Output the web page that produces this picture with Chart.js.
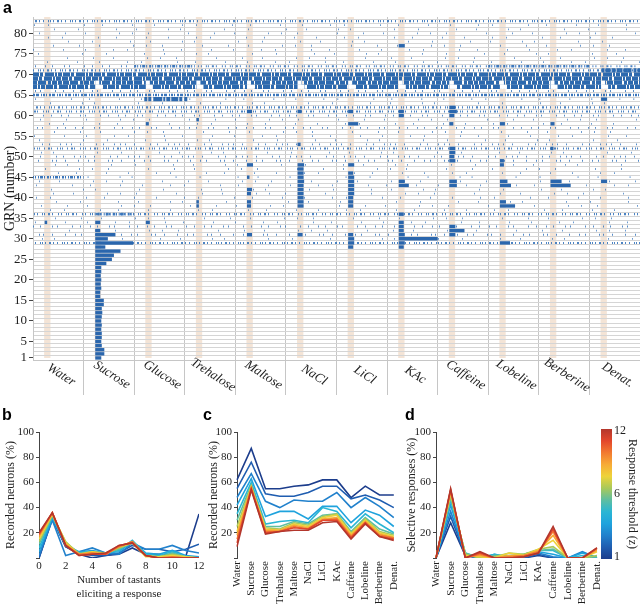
<!DOCTYPE html>
<html><head><meta charset="utf-8">
<script src="https://cdn.jsdelivr.net/npm/chart.js@4.4.1/dist/chart.umd.min.js"></script>
<style>
html,body{margin:0;padding:0;background:#fff;}
#wrap{position:relative;width:640px;height:605px;overflow:hidden;}
canvas{position:absolute;}
.lab{position:absolute;font:bold 16px "Liberation Sans",Arial,sans-serif;color:#000;line-height:16px;}
</style></head><body>
<div id="wrap">
<canvas id="ca" width="640" height="400" style="left:0;top:0"></canvas>
<canvas id="cb" width="215" height="205" style="left:0;top:400px"></canvas>
<canvas id="cc" width="210" height="205" style="left:200px;top:400px"></canvas>
<canvas id="cd" width="240" height="205" style="left:400px;top:400px"></canvas>
<div class="lab" style="left:3px;top:0px">a</div>
<div class="lab" style="left:2px;top:407px">b</div>
<div class="lab" style="left:203px;top:407px">c</div>
<div class="lab" style="left:405px;top:407px">d</div>
</div>
<script>
// ================= DATA =================
const tastants = ['Water','Sucrose','Glucose','Trehalose','Maltose','NaCl','LiCl','KAc','Caffeine','Lobeline','Berberine','Denat.'];
const grnTickLabels = [1,5,10,15,20,25,30,35,40,45,50,55,60,65,70,75,80];
const grnCount = 83;
const stimWindow = [0.22, 0.345];     // stimulus period within each tastant trial (fraction)
const responseOnset = 0.23;

// background firing bands: [GRN, fromTrial, toTrial, density level 1..5]
const activityBands = [
 [83,0,12,3],[82,0,12,1],[81,0,12,1],[80,0,12,1],[79,0,12,1],[78,0,12,1],[77,0,12,1],
 [76,0,12,1],[75,0,12,1],[74,0,12,1],[73,0,12,1],
 [72,0,2,2],[72,2,3.2,4],[72,3.2,9,3],[72,9,11,4],[72,11,12,3],
 [71,0,12,3],[71,11.2,12,5],
 [70,0,12,5],[69,0,12,5],[68,0,12,5],[67,0,12,5],
 [66,0,12,2],[65,0,12,4],
 [64,0,2.2,1],[64,2.2,3.05,5],[64,3.05,12,1],
 [63,0,12,1],[62,0,12,3],[61,0,12,3],[60,0,12,2],[59,0,12,1],[58,0,12,1],[57,0,12,2],
 [56,0,12,1],[55,0,12,1],[54,0,12,1],[53,0,12,2],[52,0,12,3],[51,0,12,1],[50,0,12,2],
 [49,0,12,2],[48,0,12,1],[47,0,12,1],[46,0,12,1],
 [45,0,1,4],[45,1,12,1],
 [44,0,12,1],[43,0,12,1],[42,0,12,1],[41,0,12,1],[40,0,12,1],[39,0,12,1],[38,0,12,1],[37,0,12,1],
 [36,0,12,3],[36,1.2,2,4],
 [35,0,12,1],[34,0,12,1],[33,0,12,2],[32,0,12,1],[31,0,12,2],[30,0,12,1],[29,0,12,3]
];

// pauses in firing after stimulus onset: [GRN, tastant index, duration]
const pauseBlocks = [
 [67,1,0.14],[67,2,0.14],[67,3,0.14],[67,4,0.14],[67,5,0.14],[67,6,0.14],[67,7,0.14],[67,8,0.14],[67,9,0.14],[67,10,0.14],[67,11,0.14],
 [68,1,0.08],[68,2,0.08],[68,3,0.08],[68,4,0.08],[68,5,0.08],[68,6,0.08],[68,7,0.08],[68,8,0.08],[68,9,0.08],[68,10,0.08],[68,11,0.08]
];

// evoked responses: [GRN, tastant index, duration]
const responseBlocks = [
 [1,1,0.12],[2,1,0.18],[3,1,0.18],[4,1,0.13],[5,1,0.12],[6,1,0.13],[7,1,0.13],[8,1,0.12],[9,1,0.13],[10,1,0.12],
 [11,1,0.13],[12,1,0.14],[13,1,0.13],[14,1,0.17],[15,1,0.17],[16,1,0.1],[17,1,0.1],[18,1,0.12],[19,1,0.11],[20,1,0.12],
 [21,1,0.11],[22,1,0.12],[23,1,0.12],[24,1,0.22],[25,1,0.33],[26,1,0.37],[27,1,0.5],[28,1,0.2],[29,1,0.75],[30,1,0.25],
 [31,1,0.4],[32,1,0.1],[34,1,0.1],
 [34,0,0.05],[34,2,0.08],[58,2,0.06],[38,3,0.05],[39,3,0.05],[59,3,0.05],
 [31,4,0.1],[38,4,0.08],[39,4,0.08],[41,4,0.08],[42,4,0.1],[45,4,0.05],[48,4,0.12],[61,4,0.1],
 [31,5,0.1],[38,5,0.12],[39,5,0.12],[40,5,0.12],[41,5,0.12],[42,5,0.12],[43,5,0.12],[44,5,0.13],[45,5,0.12],
 [46,5,0.12],[47,5,0.12],[48,5,0.13],[53,5,0.06],[61,5,0.08],
 [28,6,0.1],[29,6,0.12],[30,6,0.12],[31,6,0.1],[38,6,0.1],[39,6,0.1],[40,6,0.1],[41,6,0.12],[42,6,0.12],
 [43,6,0.12],[44,6,0.12],[45,6,0.12],[46,6,0.1],[48,6,0.12],[58,6,0.2],[61,6,0.1],
 [28,7,0.1],[29,7,0.12],[30,7,0.77],[31,7,0.12],[32,7,0.1],[33,7,0.1],[34,7,0.1],[36,7,0.1],[43,7,0.2],[44,7,0.12],
 [60,7,0.1],[61,7,0.1],[77,7,0.12],
 [31,8,0.12],[32,8,0.3],[33,8,0.12],[43,8,0.15],[44,8,0.15],[49,8,0.12],[50,8,0.1],[51,8,0.12],[52,8,0.12],
 [58,8,0.08],[60,8,0.1],[61,8,0.15],[62,8,0.12],
 [29,9,0.2],[38,9,0.3],[39,9,0.12],[43,9,0.22],[44,9,0.15],[48,9,0.08],[49,9,0.08],[58,9,0.1],
 [43,10,0.4],[44,10,0.22],[52,10,0.06],[58,10,0.08],
 [44,11,0.12],[64,11,0.12]
];

// panels b-d
const thresholds = [1,2,3,4,5,6,7,8,9,10,11,12];
const thresholdColors = ['#1c3d8c','#1f5db0','#2181cc','#1fa3dd','#2ab6d4','#5fbea0','#a9c95a','#eed33a','#f7ab36','#f27a30','#e3472c','#b3362c'];
const tastantCounts = [0,1,2,3,4,5,6,7,8,9,10,11,12];
const breadthPct = [
 [0,31,9,3,0,2,3,8,3,3,2,1,35],
 [0,32,9,4,2,2,4,10,7,7,5,7,11],
 [2,30,2,5,8,4,3,12,7,7,10,6,4],
 [5,32,10,5,6,4,5,13,4,3,6,2,1],
 [8,33,11,4,5,4,6,14,3,2,5,1,0],
 [11,34,12,4,5,4,7,13,2,1,4,1,0],
 [13,34,13,3,5,4,8,12,2,1,3,1,0],
 [15,35,12,3,5,3,9,12,1,1,2,1,0],
 [17,35,11,3,4,3,9,13,2,0,1,0,0],
 [18,36,10,3,4,3,9,13,2,0,1,0,0],
 [19,36,10,2,3,3,10,12,2,0,0,0,0],
 [20,36,10,2,3,4,10,12,2,0,0,0,0]
];
const responsivePct = [
 [62,87,55,55,57,58,62,62,48,57,50,50],
 [55,76,51,49,49,52,57,57,47,50,46,40],
 [48,67,45,40,46,45,45,52,40,48,41,32],
 [42,63,33,37,37,31,41,41,28,38,34,25],
 [35,60,27,29,30,28,40,37,24,35,27,20],
 [30,58,25,25,29,27,34,35,21,32,23,19],
 [25,57,24,23,28,26,33,35,20,31,21,18],
 [21,56,23,22,27,25,32,34,19,30,20,17],
 [18,56,22,22,26,24,31,32,18,29,19,16],
 [15,55,21,21,25,23,30,31,17,28,18,16],
 [12,55,20,21,24,23,30,30,16,28,17,15],
 [9,54,19,21,22,22,28,29,15,27,17,14]
];
const selectivePct = [
 [0,28,2,0,0,0,0,2,0,0,0,0],
 [0,33,2,0,0,0,0,3,0,0,0,0],
 [0,37,3,0,2,0,1,4,1,0,5,0],
 [0,42,3,0,3,0,2,5,3,0,4,0],
 [0,46,4,0,3,1,3,6,6,0,2,1],
 [0,48,4,0,2,2,3,6,7,0,0,1],
 [0,50,3,0,1,4,3,7,9,0,0,2],
 [0,52,2,1,0,4,2,7,14,0,0,5],
 [0,53,1,2,0,2,2,6,18,0,0,6],
 [0,54,0,3,0,1,2,5,21,0,0,7],
 [0,54,0,4,0,0,1,4,23,0,0,8],
 [0,55,0,5,0,0,1,4,25,0,0,8]
];
const colorbarTicks = [1,6,12];

// ================= STYLE / RENDER =================
const FONT = '"Liberation Serif","Times New Roman",serif';
const TXT = '#1e1e1e';
Chart.defaults.font.family = FONT;

// dash-pattern variants per density level (style only)
const levelStyles = {
 1:{dash:[[1,19,1,31,1,11,1,43,1,23,1,37],[1,27,1,13,1,35,1,17,1,29,1,21],[1,15,1,39,1,25,1,19,1,33,1,12]], w:1.8, c:'rgba(60,122,192,0.75)'},
 2:{dash:[[1,6,1,11,1,4,1,14,1,7,1,9],[1,9,1,5,1,13,1,3,1,8,1,12],[1,4,1,8,1,15,1,6,1,10,1,5]], w:1.9, c:'rgba(58,120,190,0.85)'},
 3:{dash:[[1,2,1,4,1,1,1,3,2,2,1,5],[1,3,2,1,1,5,1,2,1,1,1,4],[2,2,1,3,1,4,1,1,1,2,1,3]], w:2.1, c:'rgba(55,117,188,0.9)'},
 4:{dash:[[2,1,1,2,1,1,3,1,1,2],[1,1,2,2,3,1,1,1,1,2],[3,2,1,1,2,1,1,2,2,1]], w:2.6, c:'rgba(50,112,184,0.95)'},
 5:{dash:[[6,1,3,2,8,1,2,1,5,1],[4,1,7,1,3,2,9,1,2,1],[8,2,3,1,5,1,4,1,6,1]], w:4.1, c:'#2d69ae'}
};
const seg = (x0,x1,y) => [{x:x0,y:y},{x:x1,y:y}];
const rasterSets = [];
activityBands.forEach(([r,a,b,l]) => {
  const st = levelStyles[l];
  rasterSets.push({data:seg(a,b,r), borderColor:st.c, borderWidth:st.w,
    borderDash:st.dash[r%3], borderDashOffset:(r*37)%97, order:3});
});
pauseBlocks.forEach(([r,t,d]) => {
  rasterSets.push({data:seg(t+responseOnset,t+responseOnset+d,r), borderColor:'#ffffff', borderWidth:4.2, order:2});
});
responseBlocks.forEach(([r,t,d]) => {
  rasterSets.push({data:seg(t+responseOnset,t+responseOnset+d,r), borderColor:'#2a66ad', borderWidth:3.4, order:1});
});
rasterSets.forEach(ds => Object.assign(ds, {showLine:true, pointRadius:0, fill:false, tension:0, borderCapStyle:'butt'}));

const stripePlugin = {
  id:'stripes',
  beforeDraw(chart){
    const {ctx, chartArea:ar, scales:{x}} = chart;
    ctx.save(); ctx.fillStyle = '#f4e4d6';
    tastants.forEach((t,i) => {
      const x0 = x.getPixelForValue(i+stimWindow[0]), x1 = x.getPixelForValue(i+stimWindow[1]);
      ctx.fillRect(x0, ar.top, x1-x0, ar.bottom-ar.top-2);
    });
    ctx.restore();
  },
  afterDraw(chart){
    const {ctx, chartArea:ar, scales:{x}} = chart;
    ctx.save(); ctx.font = 'italic 13px '+FONT; ctx.fillStyle = TXT;
    ctx.textAlign='center'; ctx.textBaseline='middle';
    tastants.forEach((t,i) => {
      ctx.save();
      ctx.translate(x.getPixelForValue(i+0.5)+3, ar.bottom+15);
      ctx.rotate(33*Math.PI/180);
      ctx.fillText(t,0,0);
      ctx.restore();
    });
    ctx.restore();
  }
};

const isHalf = v => Math.abs(v%1) > 0.25;
new Chart(document.getElementById('ca'), {
  type:'scatter',
  data:{datasets:rasterSets},
  plugins:[stripePlugin],
  options:{
    responsive:false, animation:false, events:[],
    layout:{padding:{top:17,right:0,left:0,bottom:0}},
    plugins:{legend:{display:false}, tooltip:{enabled:false}},
    scales:{
      x:{type:'linear', min:0, max:12,
        afterBuildTicks:s => { s.ticks = tastants.map((t,i)=>({value:i})).concat([{value:12}]); },
        afterFit:s => { s.height = 40; },
        grid:{color:'#c6c6c6', lineWidth:1, drawTicks:true, tickLength:35,
          tickColor:c => (c.tick && c.tick.value===0) ? 'rgba(0,0,0,0)' : '#c6c6c6'},
        border:{display:true, color:'#c6c6c6'},
        ticks:{display:false}
      },
      y:{type:'linear', min:0.5, max:84,
        afterBuildTicks:s => { const a=[]; for(let v=0.5; v<=grnCount+0.5; v+=0.5) a.push({value:v}); s.ticks=a; },
        afterFit:s => { s.width = 33; },
        grid:{drawTicks:true, tickLength:4,
          color:c => (c.tick && isHalf(c.tick.value)) ? '#d5d5d5' : 'rgba(0,0,0,0)',
          tickColor:c => (c.tick && grnTickLabels.includes(c.tick.value)) ? '#444' : 'rgba(0,0,0,0)'},
        border:{display:true, color:'#c6c6c6'},
        ticks:{autoSkip:false, font:{size:13}, color:TXT, padding:2,
          callback:v => grnTickLabels.includes(v) ? String(v) : ''},
        title:{display:true, text:'GRN (number)', font:{size:14}, color:TXT, padding:{top:2,bottom:0}}
      }
    }
  }
});

// ---- panels b, c, d ----
function yAxis(title, width, titlePad){
  return {min:0, max:100,
    afterBuildTicks:s => { s.ticks=[0,20,40,60,80,100].map(v=>({value:v})); },
    afterFit:s => { s.width = width; },
    grid:{display:true, drawOnChartArea:false, drawTicks:true, tickLength:3, color:'#444'},
    border:{display:true, color:'#444'},
    ticks:{font:{size:11}, color:TXT, padding:2, callback:v => v===0 ? '' : v},
    title:{display:true, text:title, font:{size:12}, color:TXT, padding:{top:titlePad,bottom:0}}
  };
}
function lineSets(series, xs){
  return thresholds.map((t,i) => ({
    label:'z = '+t,
    data: xs ? xs.map((x,j)=>({x:x, y:series[i][j]})) : series[i],
    borderColor:thresholdColors[i], borderWidth:1.6, pointRadius:0, tension:0, fill:false,
    order: 12-t
  }));
}
const common = {responsive:false, animation:false, events:[],
  plugins:{legend:{display:false}, tooltip:{enabled:false}}};

new Chart(document.getElementById('cb'), {
  type:'line',
  data:{datasets:lineSets(breadthPct, tastantCounts)},
  options:Object.assign({}, common, {
    layout:{padding:{top:32,right:16,left:0,bottom:0}},
    scales:{
      x:{type:'linear', min:0, max:12,
        afterBuildTicks:s => { s.ticks=[0,2,4,6,8,10,12].map(v=>({value:v})); },
        afterFit:s => { s.height = 47; },
        grid:{display:false, drawTicks:false}, border:{display:false},
        ticks:{font:{size:11}, color:TXT, padding:2},
        title:{display:true, text:['Number of tastants','eliciting a response'],
          font:{size:11, lineHeight:1.35}, color:TXT, padding:{top:0,bottom:3}}
      },
      y:yAxis('Recorded neurons (%)', 39, 4)
    }
  })
});

function catX(){
  return {type:'category', offset:false,
    afterFit:s => { s.height = 47; },
    grid:{display:false, drawTicks:false}, border:{display:false},
    ticks:{font:{size:11}, color:TXT, padding:3, minRotation:90, maxRotation:90, autoSkip:false}
  };
}

new Chart(document.getElementById('cc'), {
  type:'line',
  data:{labels:tastants, datasets:lineSets(responsivePct)},
  options:Object.assign({}, common, {
    layout:{padding:{top:32,right:12,left:0,bottom:0}},
    scales:{ x:catX(), y:yAxis('Recorded neurons (%)', 37, 7) }
  })
});

const colorbarPlugin = {
  id:'colorbar',
  afterDraw(chart){
    const {ctx, chartArea:ar} = chart;
    const x0 = ar.right+4, w = 11, top = ar.top-3, bot = ar.bottom+1;
    const g = ctx.createLinearGradient(0, bot, 0, top);
    thresholdColors.forEach((c,i) => g.addColorStop(i/(thresholdColors.length-1), c));
    ctx.save();
    ctx.fillStyle = g; ctx.fillRect(x0, top, w, bot-top);
    ctx.font = '12px '+FONT; ctx.fillStyle = TXT; ctx.textAlign='left'; ctx.textBaseline='middle';
    colorbarTicks.forEach((v,i) => {
      const y = bot - 2 - i/(colorbarTicks.length-1)*(bot-top-4);
      ctx.fillText(String(v), x0+w+2, y);
    });
    ctx.translate(ar.right+35, (top+bot)/2);
    ctx.rotate(Math.PI/2);
    ctx.textAlign='center';
    ctx.fillText('Response threshold (z)', 0, 0);
    ctx.restore();
  }
};

new Chart(document.getElementById('cd'), {
  type:'line',
  data:{labels:tastants, datasets:lineSets(selectivePct)},
  plugins:[colorbarPlugin],
  options:Object.assign({}, common, {
    layout:{padding:{top:32,right:43,left:0,bottom:0}},
    scales:{ x:catX(), y:yAxis('Selective responses (%)', 36, 5) }
  })
});
</script>
</body></html>
